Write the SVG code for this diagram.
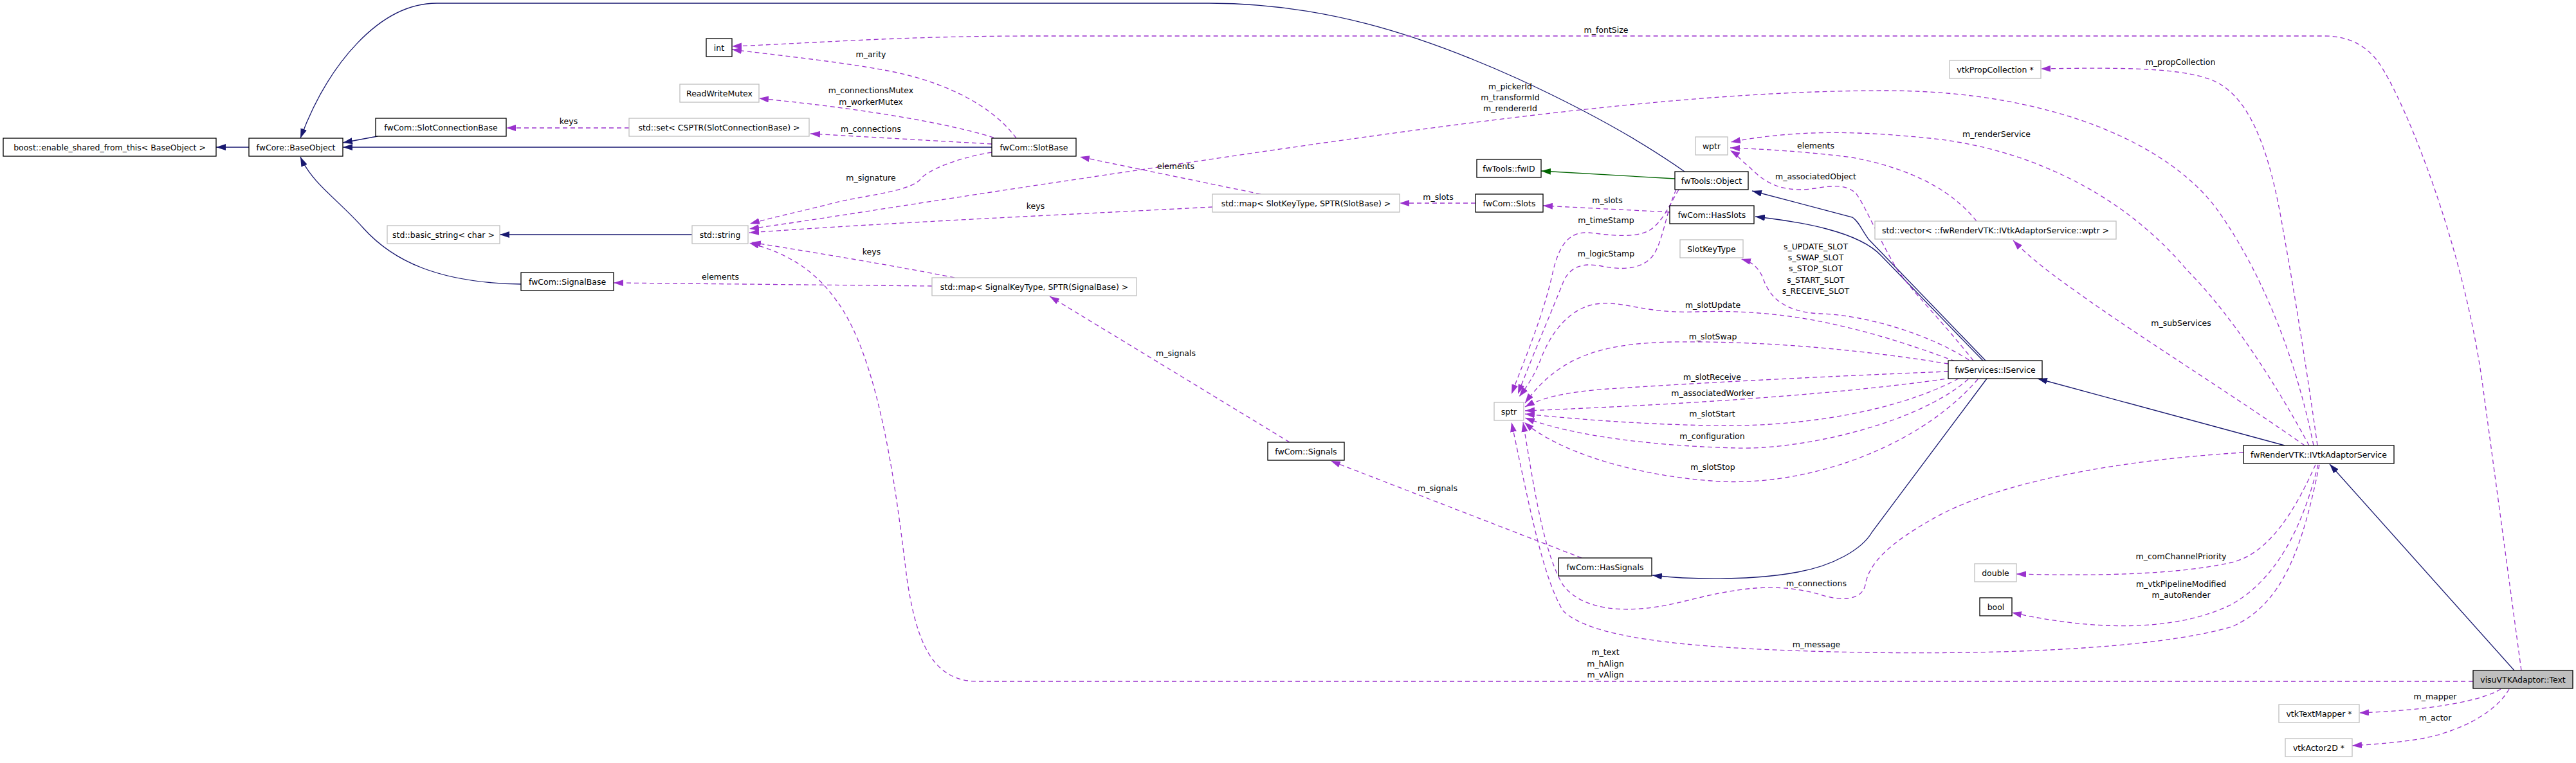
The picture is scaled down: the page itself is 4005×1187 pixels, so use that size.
<svg xmlns="http://www.w3.org/2000/svg" width="4005" height="1187" viewBox="0 0 4005 1187">
<style>
text{font-family:"DejaVu Sans","Liberation Sans",sans-serif;font-size:12.5px;fill:#000;text-anchor:middle}
.nb{fill:#fff;stroke:#000;stroke-width:1.3}
.ng{fill:#fff;stroke:#bfbfbf;stroke-width:1.3}
.nt{fill:#bfbfbf;stroke:#000;stroke-width:1.3}
.eb{fill:none;stroke:#191970;stroke-width:1.3;marker-end:url(#ab)}
.eg{fill:none;stroke:#006400;stroke-width:1.3;marker-end:url(#ag)}
.ep{fill:none;stroke:#9a32cd;stroke-width:1.3;stroke-dasharray:7,5;marker-end:url(#ap)}
</style>
<defs>
<marker id="ab" viewBox="0 0 15 10" refX="15" refY="5" markerWidth="15" markerHeight="10" markerUnits="userSpaceOnUse" orient="auto"><path d="M0,0L15,5L0,10z" fill="#191970"/></marker>
<marker id="ag" viewBox="0 0 15 10" refX="15" refY="5" markerWidth="15" markerHeight="10" markerUnits="userSpaceOnUse" orient="auto"><path d="M0,0L15,5L0,10z" fill="#006400"/></marker>
<marker id="ap" viewBox="0 0 15 10" refX="15" refY="5" markerWidth="15" markerHeight="10" markerUnits="userSpaceOnUse" orient="auto"><path d="M0,0L15,5L0,10z" fill="#9a32cd"/></marker>
</defs>
<rect width="4005" height="1187" fill="#fff"/>
<g id="edges">
<path class="eb" d="M387,229L336,229"/>
<path class="eb" d="M587,212L533,222"/>
<path class="eb" d="M1542,229L533,229"/>
<path class="eb" d="M2619,267C2560,225 2480,178 2361,123C2200,50 2050,5 1880,5L679,5C590,5 510,100 467,215"/>
<path class="eb" d="M810,442C680,440 610,405 565,355C525,310 485,285 467,244"/>
<path class="eb" d="M1076,365L777,365"/>
<path class="eg" d="M2604,278L2396,266"/>
<path class="eb" d="M3087,561L2905,372C2893,355 2890,345 2880,338L2724,297"/>
<path class="eb" d="M3083,561L2925,398C2890,360 2800,345 2729,337"/>
<path class="eb" d="M3089,589L2911,827C2895,855 2850,880 2795,890C2730,902 2640,903 2569,895"/>
<path class="eb" d="M3552,693L3168,589"/>
<path class="eb" d="M3909,1043L3622,722"/>
<path class="ep" d="M978,199L787,199"/>
<path class="ep" d="M1580,215C1540,160 1460,125 1380,110C1300,95 1200,85 1138,77"/>
<path class="ep" d="M1545,214C1450,185 1300,165 1180,153"/>
<path class="ep" d="M1542,224L1260,208"/>
<path class="ep" d="M1542,237C1490,245 1440,265 1430,280C1410,300 1330,305 1280,320C1230,332 1195,340 1166,348"/>
<path class="ep" d="M3597,693C3570,560 3520,430 3450,330C3380,230 3200,141 2930,141C2600,141 2200,200 1700,275C1450,312 1250,345 1165,356"/>
<path class="ep" d="M3920,1043L3860,600C3830,380 3740,160 3700,100C3680,70 3650,56 3614,56L1600,56C1400,56 1250,68 1138,72"/>
<path class="ep" d="M3845,1060L1520,1060C1450,1060 1425,1000 1410,900C1395,780 1370,560 1300,467C1270,425 1230,395 1165,378"/>
<path class="ep" d="M1885,322C1700,332 1400,345 1165,362"/>
<path class="ep" d="M1960,302L1679,244"/>
<path class="ep" d="M1484,432C1400,415 1250,390 1168,377"/>
<path class="ep" d="M1449,445L954,440"/>
<path class="ep" d="M2294,316L2176,316"/>
<path class="ep" d="M2596,330L2399,320"/>
<path class="ep" d="M2610,295C2595,320 2585,345 2565,358C2540,372 2500,365 2470,362C2440,360 2425,380 2415,420C2400,490 2370,560 2350,613"/>
<path class="ep" d="M2606,295C2590,330 2585,380 2568,400C2550,420 2520,420 2490,414C2460,408 2440,415 2430,440C2410,490 2380,560 2360,613"/>
<path class="ep" d="M3061,560C3000,520 2900,490 2830,488C2770,485 2750,460 2740,430C2732,415 2725,408 2707,403"/>
<path class="ep" d="M3040,562C2900,510 2780,480 2640,485C2560,488 2530,470 2490,472C2440,475 2410,520 2395,560C2385,585 2375,600 2362,617"/>
<path class="ep" d="M3029,566C2900,545 2750,530 2600,532C2480,534 2420,560 2371,627"/>
<path class="ep" d="M3029,578C2850,585 2650,595 2500,605C2430,610 2395,620 2371,633"/>
<path class="ep" d="M3035,588C2850,615 2600,630 2371,639"/>
<path class="ep" d="M3045,589C2950,640 2800,665 2661,662C2550,660 2450,652 2371,644"/>
<path class="ep" d="M3060,590C2980,660 2800,700 2700,697C2580,694 2450,680 2371,650"/>
<path class="ep" d="M3075,590C2980,700 2800,760 2660,748C2530,738 2420,700 2370,657"/>
<path class="ep" d="M3068,561C3020,500 2970,450 2950,420C2920,370 2900,320 2885,300C2860,280 2830,295 2800,295C2760,295 2740,280 2720,260C2705,248 2700,240 2690,234"/>
<path class="ep" d="M3073,344C3030,290 2960,260 2880,245C2800,235 2740,232 2690,230"/>
<path class="ep" d="M3590,693C3540,600 3470,490 3400,420C3300,300 3150,230 3000,215C2900,205 2800,200 2691,221"/>
<path class="ep" d="M3603,693C3590,600 3570,470 3550,360C3530,240 3500,150 3440,125C3390,105 3300,105 3173,107"/>
<path class="ep" d="M3583,693C3480,620 3320,520 3230,455C3180,420 3150,395 3130,374"/>
<path class="ep" d="M3488,704C3300,715 3100,750 3000,810C2930,850 2905,880 2900,910C2895,935 2860,935 2830,925C2760,905 2700,915 2620,935C2530,958 2460,950 2430,910C2400,860 2385,760 2368,657"/>
<path class="ep" d="M3606,723C3580,850 3550,940 3470,975C3350,1010 3100,1020 2850,1014C2600,1008 2470,990 2430,950C2400,900 2380,800 2350,657"/>
<path class="ep" d="M3600,723C3570,790 3530,860 3470,875C3380,895 3250,896 3135,893"/>
<path class="ep" d="M3604,723C3580,820 3540,900 3470,940C3380,985 3250,980 3128,953"/>
<path class="ep" d="M2005,688L1632,461"/>
<path class="ep" d="M2459,868L2069,717"/>
<path class="ep" d="M3888,1072C3860,1090 3780,1105 3668,1109"/>
<path class="ep" d="M3901,1072C3880,1110 3820,1140 3760,1150C3720,1156 3690,1158 3657,1160"/>
<g id="edge-labels">
<text x="884" y="193">keys</text>
<text x="1354" y="89">m_arity</text>
<text x="1354" y="145">m_connectionsMutex</text>
<text x="1354" y="163">m_workerMutex</text>
<text x="1354" y="205">m_connections</text>
<text x="1354" y="281">m_signature</text>
<text x="2348" y="139">m_pickerId</text>
<text x="2348" y="156">m_transformId</text>
<text x="2348" y="173">m_rendererId</text>
<text x="2497" y="51">m_fontSize</text>
<text x="2496" y="1019">m_text</text>
<text x="2496" y="1037">m_hAlign</text>
<text x="2496" y="1054">m_vAlign</text>
<text x="1610" y="325">keys</text>
<text x="1828" y="263">elements</text>
<text x="1355" y="396">keys</text>
<text x="1120" y="435">elements</text>
<text x="2236" y="311">m_slots</text>
<text x="2499" y="316">m_slots</text>
<text x="2497" y="347">m_timeStamp</text>
<text x="2497" y="399">m_logicStamp</text>
<text x="2823" y="388">s_UPDATE_SLOT</text>
<text x="2823" y="405">s_SWAP_SLOT</text>
<text x="2823" y="422">s_STOP_SLOT</text>
<text x="2823" y="440">s_START_SLOT</text>
<text x="2823" y="457">s_RECEIVE_SLOT</text>
<text x="2663" y="479">m_slotUpdate</text>
<text x="2663" y="528">m_slotSwap</text>
<text x="2662" y="591">m_slotReceive</text>
<text x="2663" y="616">m_associatedWorker</text>
<text x="2662" y="648">m_slotStart</text>
<text x="2662" y="683">m_configuration</text>
<text x="2663" y="731">m_slotStop</text>
<text x="2823" y="279">m_associatedObject</text>
<text x="2823" y="231">elements</text>
<text x="3104" y="213">m_renderService</text>
<text x="3390" y="101">m_propCollection</text>
<text x="3391" y="507">m_subServices</text>
<text x="2824" y="912">m_connections</text>
<text x="2824" y="1007">m_message</text>
<text x="3391" y="870">m_comChannelPriority</text>
<text x="3391" y="913">m_vtkPipelineModified</text>
<text x="3391" y="930">m_autoRender</text>
<text x="1828" y="554">m_signals</text>
<text x="2235" y="764">m_signals</text>
<text x="3786" y="1088">m_mapper</text>
<text x="3786" y="1121">m_actor</text>
</g>
</g>
<g id="n_boost"><rect class="nb" x="5" y="215" width="331" height="28"/><text x="170.5" y="233.5">boost::enable_shared_from_this&lt; BaseObject &gt;</text></g>
<g id="n_baseobject"><rect class="nb" x="387" y="215" width="146" height="28"/><text x="460" y="233.5">fwCore::BaseObject</text></g>
<g id="n_slotconnectionbase"><rect class="nb" x="584" y="184" width="203" height="28"/><text x="685.5" y="202.5">fwCom::SlotConnectionBase</text></g>
<g id="n_set"><rect class="ng" x="978" y="184" width="280" height="28"/><text x="1118" y="202.5">std::set&lt; CSPTR(SlotConnectionBase) &gt;</text></g>
<g id="n_rwmutex"><rect class="ng" x="1057" y="131" width="123" height="28"/><text x="1118.5" y="149.5">ReadWriteMutex</text></g>
<g id="n_int"><rect class="nb" x="1098" y="60" width="40" height="28"/><text x="1118" y="78.5">int</text></g>
<g id="n_slotbase"><rect class="nb" x="1542" y="215" width="131" height="28"/><text x="1607.5" y="233.5">fwCom::SlotBase</text></g>
<g id="n_basicstring"><rect class="ng" x="602" y="351" width="175" height="28"/><text x="689.5" y="369.5">std::basic_string&lt; char &gt;</text></g>
<g id="n_string"><rect class="ng" x="1076" y="351" width="87" height="28"/><text x="1119.5" y="369.5">std::string</text></g>
<g id="n_signalbase"><rect class="nb" x="810" y="424" width="144" height="28"/><text x="882" y="442.5">fwCom::SignalBase</text></g>
<g id="n_mapsignal"><rect class="ng" x="1449" y="432" width="318" height="28"/><text x="1608" y="450.5">std::map&lt; SignalKeyType, SPTR(SignalBase) &gt;</text></g>
<g id="n_mapslot"><rect class="ng" x="1885" y="302" width="291" height="28"/><text x="2030.5" y="320.5">std::map&lt; SlotKeyType, SPTR(SlotBase) &gt;</text></g>
<g id="n_fwid"><rect class="nb" x="2296" y="248" width="100" height="28"/><text x="2346" y="266.5">fwTools::fwID</text></g>
<g id="n_slots"><rect class="nb" x="2294" y="302" width="105" height="28"/><text x="2346.5" y="320.5">fwCom::Slots</text></g>
<g id="n_object"><rect class="nb" x="2604" y="267" width="114" height="28"/><text x="2661" y="285.5">fwTools::Object</text></g>
<g id="n_hasslots"><rect class="nb" x="2596" y="320" width="131" height="28"/><text x="2661.5" y="338.5">fwCom::HasSlots</text></g>
<g id="n_wptr"><rect class="ng" x="2636" y="213" width="50" height="28"/><text x="2661" y="231.5">wptr</text></g>
<g id="n_slotkeytype"><rect class="ng" x="2612" y="373" width="98" height="28"/><text x="2661" y="391.5">SlotKeyType</text></g>
<g id="n_vector"><rect class="ng" x="2915" y="344" width="375" height="28"/><text x="3102.5" y="362.5">std::vector&lt; ::fwRenderVTK::IVtkAdaptorService::wptr &gt;</text></g>
<g id="n_propcollection"><rect class="ng" x="3031" y="94" width="142" height="28"/><text x="3102" y="112.5">vtkPropCollection *</text></g>
<g id="n_iservice"><rect class="nb" x="3029" y="561" width="146" height="28"/><text x="3102" y="579.5">fwServices::IService</text></g>
<g id="n_sptr"><rect class="ng" x="2323" y="626" width="46" height="28"/><text x="2346" y="644.5">sptr</text></g>
<g id="n_signals"><rect class="nb" x="1971" y="688" width="119" height="28"/><text x="2030.5" y="706.5">fwCom::Signals</text></g>
<g id="n_hassignals"><rect class="nb" x="2423" y="868" width="145" height="28"/><text x="2495.5" y="886.5">fwCom::HasSignals</text></g>
<g id="n_ivtkadaptorservice"><rect class="nb" x="3488" y="693" width="234" height="28"/><text x="3605" y="711.5">fwRenderVTK::IVtkAdaptorService</text></g>
<g id="n_double"><rect class="ng" x="3070" y="877" width="65" height="28"/><text x="3102.5" y="895.5">double</text></g>
<g id="n_bool"><rect class="nb" x="3078" y="930" width="50" height="28"/><text x="3103" y="948.5">bool</text></g>
<g id="n_text"><rect class="nt" x="3845" y="1043" width="155" height="28"/><text x="3922.5" y="1061.5">visuVTKAdaptor::Text</text></g>
<g id="n_textmapper"><rect class="ng" x="3543" y="1096" width="125" height="28"/><text x="3605.5" y="1114.5">vtkTextMapper *</text></g>
<g id="n_actor2d"><rect class="ng" x="3553" y="1149" width="104" height="28"/><text x="3605" y="1167.5">vtkActor2D *</text></g>
</svg>
